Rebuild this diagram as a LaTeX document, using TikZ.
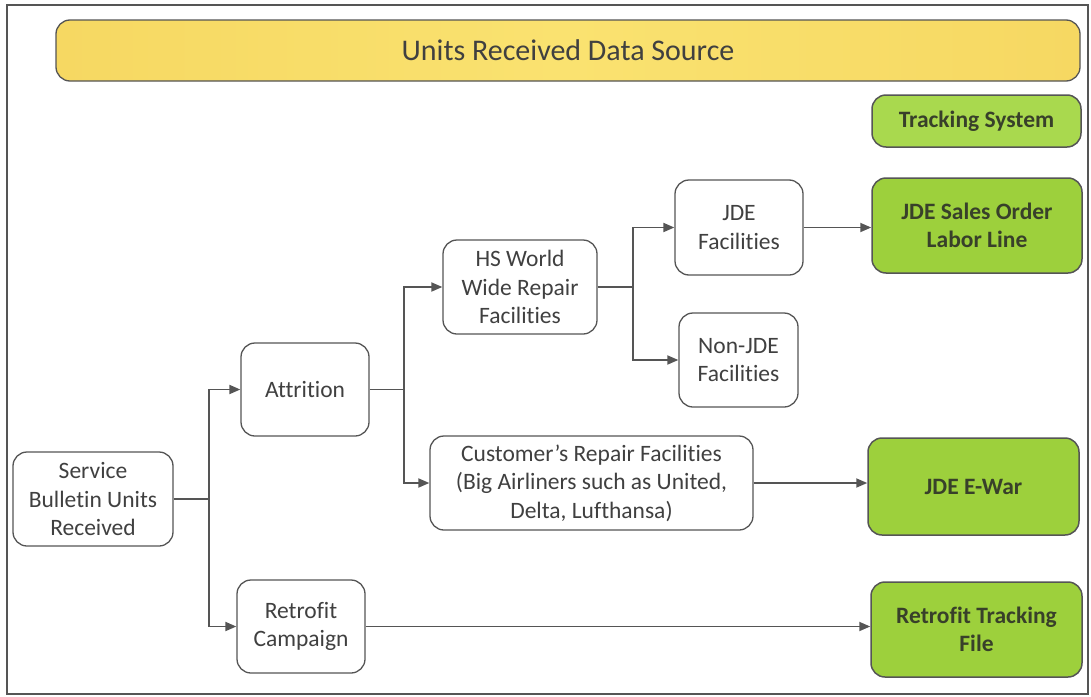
\documentclass[tikz,border=0pt]{standalone}
\usepackage{fontspec}
\setmainfont{Carlito}[Ligatures=NoCommon]
\usetikzlibrary{arrows.meta,calc}
\definecolor{txtgray}{HTML}{404040}
\definecolor{txtdark}{HTML}{38402A}
\definecolor{linegray}{HTML}{555555}
\definecolor{greenbox}{HTML}{9DD03C}
\definecolor{greenlight}{HTML}{A9D94E}
\definecolor{titleyellow}{HTML}{FAE270}
\definecolor{titleedge}{HTML}{F6D862}
\tikzset{
  box/.style={draw=linegray, line width=1.3pt, rounded corners=14pt, fill=white,
    align=center, inner sep=0pt, text=txtgray,
    font=\fontsize{23.5}{28.5}\selectfont},
  gbox/.style={box, fill=greenbox, text=txtdark, line width=1.5pt,
    font=\fontsize{23.5}{28.5}\selectfont\bfseries},
  conn/.style={draw=linegray, line width=1.8pt, -{Triangle[length=11pt,width=9pt]}},
  plainline/.style={draw=linegray, line width=1.8pt}
}
\begin{document}
\begin{tikzpicture}[x=1pt,y=-1pt]
\useasboundingbox (0,0) rectangle (1091,696);
% outer frame
\draw[draw=linegray, line width=1.8pt] (7,5) rectangle (1088,694);
% title
\node[box, left color=titleedge, right color=titleedge, middle color=titleyellow,
  minimum width=1024pt, minimum height=61pt, text=txtgray,
  font=\fontsize{30}{36}\selectfont] (title) at (568,50.5) {Units Received Data Source};
% green boxes
\node[gbox, fill=greenlight, minimum width=209pt, minimum height=52pt] (track) at (976.5,121) {Tracking System};
\node[gbox, minimum width=210pt, minimum height=95pt] (jdeso) at (977,225.5) {JDE Sales Order\\Labor Line};
\node[gbox, minimum width=211pt, minimum height=97pt] (ewar) at (973.5,486.5) {JDE E-War};
\node[gbox, minimum width=211pt, minimum height=95pt] (rettf) at (976.5,629.5) {Retrofit Tracking\\File};
% white boxes
\node[box, minimum width=128pt, minimum height=95pt] (jdef) at (739,227.5) {JDE\\Facilities};
\node[box, minimum width=154pt, minimum height=94pt] (hs) at (520,287) {HS World\\Wide Repair\\Facilities};
\node[box, minimum width=119pt, minimum height=94pt] (nonjde) at (738.5,360) {Non-JDE\\Facilities};
\node[box, minimum width=128pt, minimum height=93pt] (attr) at (305,389.5) {Attrition};
\node[box, minimum width=323pt, minimum height=94pt] (cust) at (591.5,483) {Customer’s Repair Facilities\\(Big Airliners such as United,\\Delta, Lufthansa)};
\node[box, minimum width=160pt, minimum height=94pt] (sb) at (93,499) {Service\\Bulletin Units\\Received};
\node[box, minimum width=128pt, minimum height=93pt] (retc) at (301,626.5) {Retrofit\\Campaign};
% junction points
\coordinate (j1) at ($(sb.east)+(35,0)$);
\coordinate (j2) at ($(attr.east)+(34,0)$);
\coordinate (j3) at ($(hs.east)+(35,0)$);
% connectors
\draw[plainline] (sb.east) -- (j1);
\draw[conn] (j1) |- (attr.west);
\draw[conn] (j1) |- (retc.west);
\draw[plainline] (attr.east) -- (j2);
\draw[conn] (j2) |- (hs.west);
\draw[conn] (j2) |- (cust.west);
\draw[plainline] (hs.east) -- (j3);
\draw[conn] (j3) |- (jdef.west);
\draw[conn] (j3) |- (nonjde.west);
\draw[conn] (jdef.east) -- (jdef.east -| jdeso.west);
\draw[conn] (cust.east) -- (cust.east -| ewar.west);
\draw[conn] (retc.east) -- (retc.east -| rettf.west);
\end{tikzpicture}
\end{document}
